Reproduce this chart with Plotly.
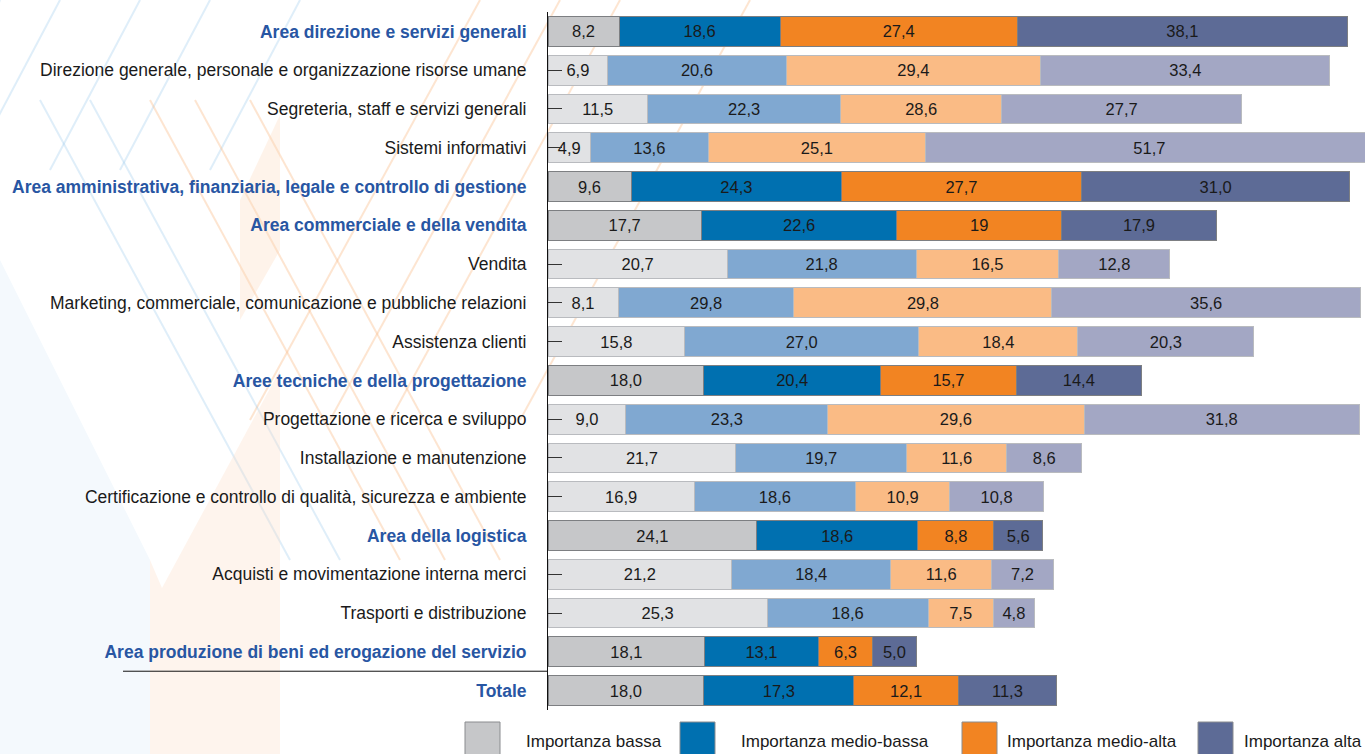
import plotly.graph_objects as go

# ---------------- data ----------------
categories = [
    "Area direzione e servizi generali",
    "Direzione generale, personale e organizzazione risorse umane",
    "Segreteria, staff e servizi generali",
    "Sistemi informativi",
    "Area amministrativa, finanziaria, legale e controllo di gestione",
    "Area commerciale e della vendita",
    "Vendita",
    "Marketing, commerciale, comunicazione e pubbliche relazioni",
    "Assistenza clienti",
    "Aree tecniche e della progettazione",
    "Progettazione e ricerca e sviluppo",
    "Installazione e manutenzione",
    "Certificazione e controllo di qualità, sicurezza e ambiente",
    "Area della logistica",
    "Acquisti e movimentazione interna merci",
    "Trasporti e distribuzione",
    "Area produzione di beni ed erogazione del servizio",
    "Totale",
]
is_area = [True, False, False, False, True, True, False, False, False,
           True, False, False, False, True, False, False, True, True]

series_names = ["Importanza bassa", "Importanza medio-bassa",
                "Importanza medio-alta", "Importanza alta"]

# bar lengths as drawn in the picture
bassa = [8.2, 6.9, 11.5, 4.9, 9.6, 17.7, 20.7, 8.1, 15.8, 18.0, 9.0, 21.7, 16.9, 24.1, 21.2, 25.3, 18.1, 18.0]
medio_bassa = [18.6, 20.6, 22.3, 13.6, 24.3, 22.6, 21.8, 20.3, 27.0, 20.4, 23.3, 19.7, 18.6, 18.6, 18.4, 18.6, 13.1, 17.3]
medio_alta = [27.4, 29.4, 18.6, 25.1, 27.7, 19, 16.5, 29.8, 18.4, 15.7, 29.6, 11.6, 10.9, 8.8, 11.6, 7.5, 6.3, 12.1]
alta = [38.1, 33.4, 27.7, 51.7, 31.0, 17.9, 12.8, 35.6, 20.3, 14.4, 31.8, 8.6, 10.8, 5.6, 7.2, 4.8, 5.0, 11.3]

# printed labels that differ from the drawn length in the original
label_overrides = {(2, 2): "28,6", (1, 7): "29,8"}

series_values = [bassa, medio_bassa, medio_alta, alta]

dark_colors = ["#c6c7c9", "#0070b0", "#f28422", "#5d6b96"]
light_colors = ["#e1e2e4", "#80a8d1", "#fabb85", "#a3a7c4"]

AREA_BLUE = "#2856a3"
FONT = "Liberation Sans, Arial, sans-serif"


def fmt(v):
    if isinstance(v, int):
        return str(v)
    return f"{v:.1f}".replace(".", ",")


fig = go.Figure()

for si, (name, vals) in enumerate(zip(series_names, series_values)):
    texts = [label_overrides.get((si, ri), fmt(v)) for ri, v in enumerate(vals)]
    colors = [dark_colors[si] if a else light_colors[si] for a in is_area]
    lcolors = ["#7d7f82" if a else "#b9bbbf" for a in is_area]
    fig.add_trace(go.Bar(
        name=name,
        y=categories,
        x=vals,
        orientation="h",
        text=texts,
        textposition="inside",
        insidetextanchor="middle",
        textangle=0,
        constraintext="none",
        textfont=dict(family=FONT, size=16.5, color="#1a1a1a"),
        marker=dict(color=colors, line=dict(color=lcolors, width=1)),
        hoverinfo="skip",
        showlegend=False,
    ))

ticktext = [
    f"<b><span style='color:{AREA_BLUE}'>{c}</span></b>" if a else c
    for c, a in zip(categories, is_area)
]
sub_rows = [c for c, a in zip(categories, is_area) if not a]

# invisible helper trace carrying the short inner ticks of the sub rows
fig.add_trace(go.Scatter(
    x=[0] * len(sub_rows), y=sub_rows, yaxis="y2", mode="markers",
    marker=dict(opacity=0, size=1), showlegend=False, hoverinfo="skip",
))

# ---------------- pixel -> paper helpers ----------------
PX0, PW, PY1, PH = 548, 817, 710, 698


def px(x):
    return (x - PX0) / PW


def py(y):
    return (PY1 - y) / PH


shapes = []
annotations = []

# ---------------- background decoration (left side) ----------------
blue_line = "rgba(150,200,235,0.30)"
orange_line = "rgba(250,190,140,0.40)"
for x0 in [0, 60, 140, 210, 300]:
    shapes.append(dict(type="line", xref="paper", yref="paper",
                       x0=px(x0 - 90), y0=py(170), x1=px(x0), y1=py(0),
                       line=dict(color=blue_line, width=2), layer="below"))
for x0 in [480, 560, 620, 750]:
    shapes.append(dict(type="line", xref="paper", yref="paper",
                       x0=px(x0 - 230), y0=py(420), x1=px(x0), y1=py(0),
                       line=dict(color=orange_line, width=2), layer="below"))
for x0, col in [(40, blue_line), (90, blue_line), (150, orange_line), (195, orange_line), (250, orange_line)]:
    shapes.append(dict(type="line", xref="paper", yref="paper",
                       x0=px(x0), y0=py(100), x1=px(x0 + 250), y1=py(560),
                       line=dict(color=col, width=2), layer="below"))
shapes.append(dict(type="path", xref="paper", yref="paper",
                   path=f"M {px(150)},{py(754)} L {px(150)},{py(560)} L {px(162)},{py(588)} "
                        f"L {px(280)},{py(370)} L {px(280)},{py(754)} Z",
                   fillcolor="rgba(252,220,195,0.30)", line=dict(width=0), layer="below"))
shapes.append(dict(type="path", xref="paper", yref="paper",
                   path=f"M {px(240)},{py(320)} L {px(280)},{py(250)} L {px(280)},{py(115)} "
                        f"L {px(240)},{py(200)} Z",
                   fillcolor="rgba(252,215,185,0.30)", line=dict(width=0), layer="below"))
shapes.append(dict(type="path", xref="paper", yref="paper",
                   path=f"M {px(0)},{py(260)} L {px(150)},{py(560)} L {px(150)},{py(754)} L {px(0)},{py(754)} Z",
                   fillcolor="rgba(220,235,247,0.30)", line=dict(width=0), layer="below"))

# separator line above "Totale"
shapes.append(dict(type="line", xref="paper", yref="y",
                   x0=px(123), x1=0, y0=16.5, y1=16.5,
                   line=dict(color="#111111", width=1)))

# ---------------- legend (large swatches, as in the original) ----------------
legend_swatch_left = [465, 680, 962, 1198]
legend_text_left = [524, 739, 1005, 1242]
for name, col, sx, tx in zip(series_names, dark_colors, legend_swatch_left, legend_text_left):
    shapes.append(dict(type="rect", xref="paper", yref="paper",
                       x0=px(sx), x1=px(sx + 35), y0=py(757), y1=py(722),
                       fillcolor=col, line=dict(color="#8a8c8f", width=1)))
    annotations.append(dict(xref="paper", yref="paper", x=px(tx), y=py(741),
                            xanchor="left", yanchor="middle", showarrow=False,
                            text=name, font=dict(family=FONT, size=17, color="#1a1a1a")))

fig.update_layout(
    barmode="stack",
    bargap=0.23,
    width=1365,
    height=754,
    margin=dict(l=548, r=0, t=12, b=44, pad=0),
    paper_bgcolor="white",
    plot_bgcolor="rgba(0,0,0,0)",
    font=dict(family=FONT, size=17.5, color="#1a1a1a"),
    showlegend=False,
    uniformtext=dict(minsize=16, mode="show"),
    xaxis=dict(
        range=[0, 94.35],
        visible=False,
        fixedrange=True,
        automargin=False,
    ),
    yaxis=dict(
        type="category",
        categoryorder="array",
        categoryarray=categories,
        range=[17.5, -0.5],
        tickmode="array",
        tickvals=categories,
        ticktext=ticktext,
        ticks="",
        ticklabelstandoff=17,
        showline=True,
        linecolor="#111111",
        linewidth=1,
        showgrid=False,
        zeroline=False,
        fixedrange=True,
        automargin=False,
    ),
    yaxis2=dict(
        type="category",
        overlaying="y",
        matches="y",
        side="left",
        tickmode="array",
        tickvals=sub_rows,
        showticklabels=False,
        ticks="inside",
        ticklen=14,
        tickcolor="#333333",
        tickwidth=1,
        showline=False,
        showgrid=False,
        zeroline=False,
        fixedrange=True,
        automargin=False,
    ),
    shapes=shapes,
    annotations=annotations,
)

fig.write_html("out.html", config={"displayModeBar": False},
               post_script="document.body.style.margin='0';")
